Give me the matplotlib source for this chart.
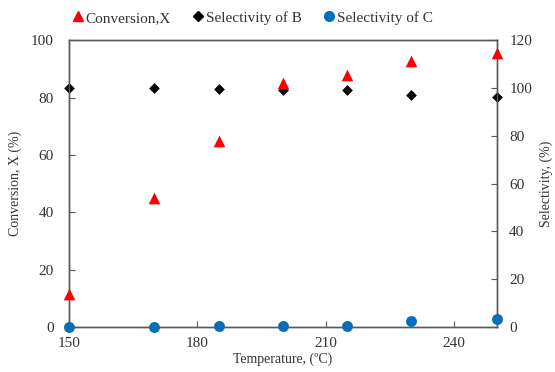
import matplotlib
matplotlib.use("Agg")
import matplotlib.pyplot as plt
from matplotlib.lines import Line2D

temperature = [150, 170, 185, 200, 215, 230, 250]
conversion_x = [11.6, 44.8, 64.8, 84.9, 88.0, 92.8, 95.6]
selectivity_b = [100.0, 100.0, 99.6, 99.3, 99.3, 97.2, 96.2]
selectivity_c = [0.0, 0.0, 0.3, 0.5, 0.5, 2.4, 3.3]

plt.rcParams['font.family'] = ['Liberation Serif', 'DejaVu Serif']

fig = plt.figure(figsize=(5.55, 3.72), dpi=100)
ax = fig.add_axes([0.124, 0.121, 0.771, 0.771])
ax2 = ax.twinx()

spine_col = '#595959'
for a in (ax, ax2):
    for s in a.spines.values():
        s.set_color(spine_col)
        s.set_linewidth(1.0)

blue = '#0070C0'
ax2.scatter(temperature, selectivity_c, marker='o', s=62, color=blue, zorder=3, clip_on=False, linewidths=0)
ax2.scatter(temperature, selectivity_b, marker='D', s=30, color='black', zorder=3, clip_on=False, linewidths=0)
ax.scatter(temperature, conversion_x, marker='^', s=70, color='#FF0000', zorder=4, clip_on=False, linewidths=0)
ax.set_zorder(ax2.get_zorder() + 1)
ax.patch.set_visible(False)

ax.set_xlim(150, 250)
ax.set_ylim(0, 100)
ax2.set_ylim(0, 120)
ax.set_xticks([150, 180, 210, 240])
ax.set_yticks([0, 20, 40, 60, 80, 100])
ax2.set_yticks([0, 20, 40, 60, 80, 100, 120])

ax.tick_params(axis='both', direction='in', length=4, color=spine_col, labelsize=11, labelcolor='#333333')
ax.tick_params(axis='y', left=True, right=False, pad=11)
ax.tick_params(axis='x', pad=7)
ax2.tick_params(axis='y', direction='in', length=4, color=spine_col, labelsize=11, labelcolor='#333333', pad=9)

ax.set_xlabel('Temperature, (\u00baC)', fontsize=10, color='#333333', labelpad=2)
ax.set_ylabel('Conversion, X (%)', fontsize=10, color='#333333', labelpad=6)
ax2.set_ylabel('Selectivity, (%)', fontsize=10, color='#333333', labelpad=5)

handles = [
    Line2D([], [], marker='^', linestyle='none', color='#FF0000', markersize=7),
    Line2D([], [], marker='D', linestyle='none', color='black', markersize=5),
    Line2D([], [], marker='o', linestyle='none', color=blue, markersize=7),
]
labels = ['Conversion,X', 'Selectivity of B', 'Selectivity of C']
fig.legend(handles, labels, loc='center', bbox_to_anchor=(0.452, 0.952), ncol=3,
           frameon=False, fontsize=11, handletextpad=-0.1, columnspacing=1.2,
           handlelength=1.2, labelcolor='#333333')

fig.savefig('out.png', dpi=100)
